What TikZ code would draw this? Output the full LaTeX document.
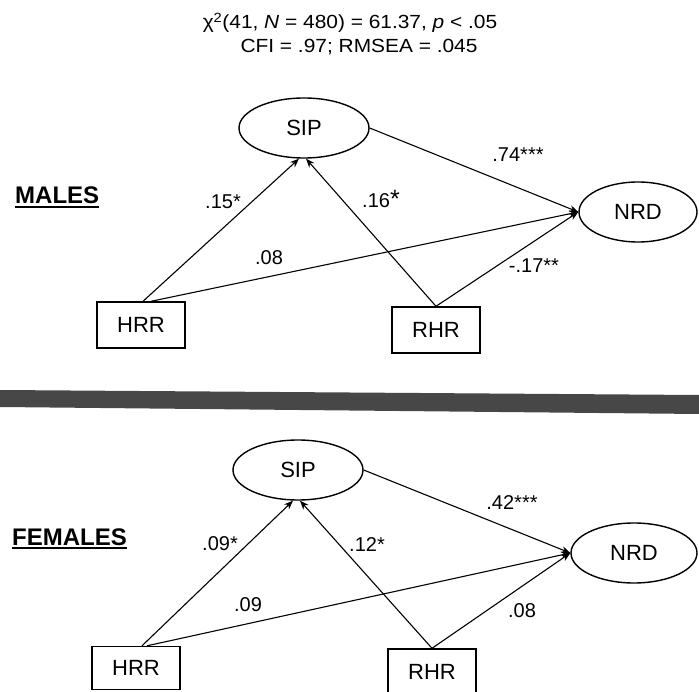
\documentclass[tikz,border=0pt]{standalone}
\usepackage{fontspec}
\setmainfont{Liberation Sans}
\usetikzlibrary{arrows.meta,shapes.geometric}
\begin{document}
\begin{tikzpicture}[x=1pt,y=-1pt,
  latent/.style={draw,ellipse,line width=1.4pt,inner sep=0pt,font=\fontsize{22}{26}\selectfont},
  obs/.style={draw,rectangle,line width=1.4pt,inner sep=0pt,minimum width=88pt,minimum height=46pt,font=\fontsize{22}{26}\selectfont},
  path/.style={line width=1.1pt,-{Stealth[length=9pt,width=7pt]}},
  coef/.style={inner sep=0pt,font=\fontsize{20}{24}\selectfont},
  group/.style={inner sep=0pt,anchor=base west,font=\fontsize{24}{28}\selectfont\bfseries},
  ulineStyle/.style={line width=2.5pt},
  hdr/.style={inner sep=0pt,anchor=base,font=\fontsize{19}{22}\selectfont}]
\useasboundingbox (0,0) rectangle (699,692);
% header
\node[hdr] (h1) at (350,29) {\scalebox{1.1}[1]{χ\textsuperscript{2}(41, \textit{N} = 480) = 61.37, \textit{p} < .05}};
\node[hdr] (h2) at (359,53) {\scalebox{1.1}[1]{CFI = .97; RMSEA = .045}};
% ===== MALES =====
\node[group] (males) at (15,204) {MALES};
\draw[ulineStyle] ([yshift=-3pt]males.base west) -- ([yshift=-3pt]males.base east);
\node[latent,minimum width=130pt,minimum height=60pt] (sip1) at (304,128) {SIP};
\node[latent,minimum width=118pt,minimum height=60pt] (nrd1) at (638,212) {NRD};
\node[obs] (hrr1) at (141,325) {HRR};
\node[obs] (rhr1) at (436,330) {RHR};
\draw[path] ([xshift=2pt]hrr1.north) -- ([xshift=-5pt]sip1.south);
\draw[path] ([xshift=10pt]hrr1.north) -- (nrd1.west);
\draw[path] (rhr1.north) -- ([xshift=2pt]sip1.south);
\draw[path] (rhr1.north) -- (nrd1.west);
\draw[path] (sip1.east) -- (nrd1.west);
\node[coef] (m15) at (223,202) {.15*};
\node[coef] (m08) at (269,258) {.08};
\node[coef] (m16) at (381,199) {.16{\fontsize{25}{25}\selectfont *}};
\node[coef] (m74) at (518,155) {.74***};
\node[coef] (m17) at (534,266) {-.17**};
% separator band
\fill[black!72] (0,390) -- (699,395) -- (699,414) -- (0,407) -- cycle;
% ===== FEMALES =====
\node[group] (females) at (12,545) {FEMALES};
\draw[ulineStyle] ([yshift=-3pt]females.base west) -- ([yshift=-3pt]females.base east);
\node[latent,minimum width=130pt,minimum height=60pt] (sip2) at (298,470) {SIP};
\node[latent,minimum width=126pt,minimum height=60pt] (nrd2) at (634,553) {NRD};
\node[obs,minimum height=43pt] (hrr2) at (136,668) {HRR};
\node[obs] (rhr2) at (432,672) {RHR};
\draw[path] ([xshift=6pt]hrr2.north) -- ([xshift=-5pt]sip2.south);
\draw[path] ([xshift=11pt]hrr2.north) -- (nrd2.west);
\draw[path] (rhr2.north) -- ([xshift=2pt]sip2.south);
\draw[path] (rhr2.north) -- (nrd2.west);
\draw[path] (sip2.east) -- (nrd2.west);
\node[coef] (f09a) at (220,544) {.09*};
\node[coef] (f09b) at (248,605) {.09};
\node[coef] (f12) at (367,545) {.12*};
\node[coef] (f42) at (512,503) {.42***};
\node[coef] (f08) at (522,611) {.08};
\end{tikzpicture}
\end{document}
